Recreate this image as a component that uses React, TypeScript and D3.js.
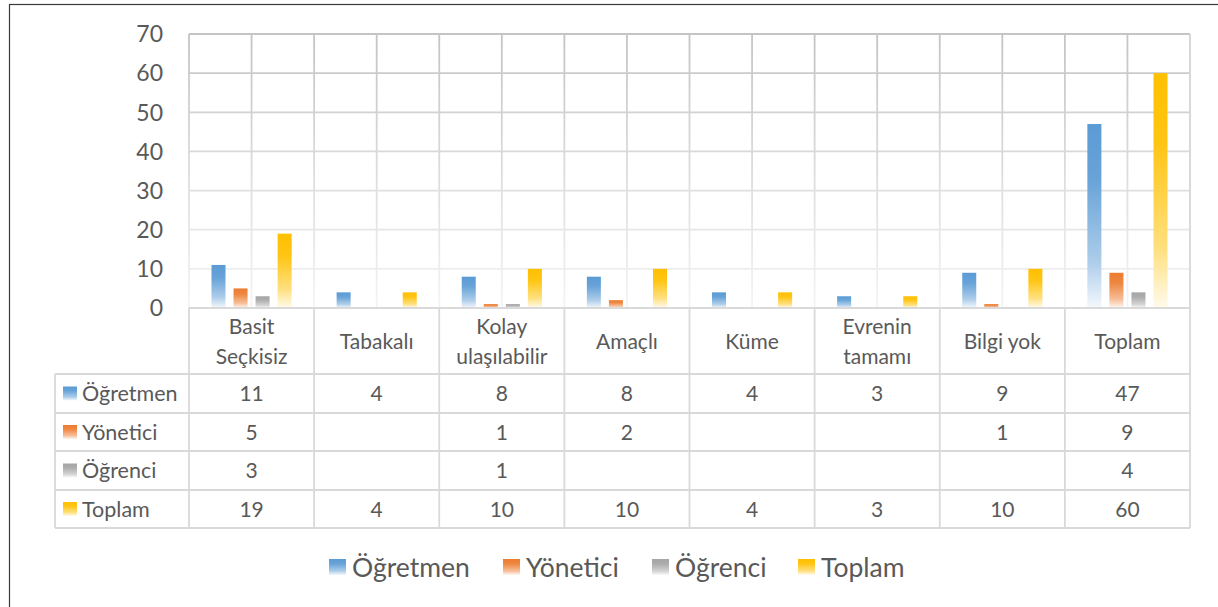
import React from "react";
import * as d3 from "d3";

const categories = ["Basit Seçkisiz", "Tabakalı", "Kolay ulaşılabilir", "Amaçlı", "Küme", "Evrenin tamamı", "Bilgi yok", "Toplam"];
const categoryLines = [["Basit", "Seçkisiz"], ["Tabakalı"], ["Kolay", "ulaşılabilir"], ["Amaçlı"], ["Küme"], ["Evrenin", "tamamı"], ["Bilgi yok"], ["Toplam"]];
const seriesNames = ["Öğretmen", "Yönetici", "Öğrenci", "Toplam"];
const ogretmen = [11, 4, 8, 8, 4, 3, 9, 47];
const yonetici = [5, null, 1, 2, null, null, 1, 9];
const ogrenci = [3, null, 1, null, null, null, null, 4];
const toplam = [19, 4, 10, 10, 4, 3, 10, 60];
const yTicks = [0, 10, 20, 30, 40, 50, 60, 70];
const colors = ["#5b9bd5", "#ed7d31", "#a5a5a5", "#ffc000"];

const seriesValues = [ogretmen, yonetici, ogrenci, toplam];

const FONT = "Lato, 'Open Sans', sans-serif";
const TEXT = "#595959";

export default function App() {
  const plot = { left: 189, right: 1190, top: 34, bottom: 308 };
  const rowTops = [374, 413, 451, 490, 528];
  const tableLeft = 55;

  const x = d3.scaleBand<string>().domain(categories).range([plot.left, plot.right]);
  const xs = d3.scaleBand<string>().domain(seriesNames).range([0, x.bandwidth()]).paddingInner(0.364).paddingOuter(1.02);
  const y = d3.scaleLinear().domain([0, 70]).range([plot.bottom, plot.top]);

  const halfLines: number[] = [];
  categories.forEach((c) => {
    halfLines.push(x(c)!);
    halfLines.push(x(c)! + x.bandwidth() / 2);
  });
  halfLines.push(plot.right);

  return (
    <svg width={1218} height={607} style={{ position: "absolute", left: 0, top: 0, background: "#fff" }} fontFamily={FONT}>
      <defs>
        <linearGradient id="grid" gradientUnits="userSpaceOnUse" x1={0} y1={plot.top} x2={0} y2={plot.bottom}>
          <stop offset="0" stopColor="#c4c4c4" />
          <stop offset="1" stopColor="#f4f4f4" />
        </linearGradient>
        {colors.map((c, i) => (
          <linearGradient key={i} id={"bar" + i} x1="0" y1="0" x2="0" y2="1">
            <stop offset="0" stopColor={c} />
            <stop offset="0.3" stopColor={d3.interpolateRgb(c, "#fff")(0.08)} />
            <stop offset="0.75" stopColor={d3.interpolateRgb(c, "#fff")(0.5)} />
            <stop offset="1" stopColor={d3.interpolateRgb(c, "#fff")(0.93)} />
          </linearGradient>
        ))}
      </defs>

      {/* chart frame */}
      <rect x={9.5} y={4.5} width={1300} height={700} fill="none" stroke="#3a3a3a" strokeWidth={1.2} />

      {/* gridlines */}
      {yTicks.slice(1).map((t) => (
        <line key={"h" + t} x1={plot.left} x2={plot.right} y1={y(t)} y2={y(t)} stroke="url(#grid)" strokeWidth={1.8} />
      ))}
      {halfLines.map((xv, i) => (
        <rect key={"v" + i} x={xv - 0.9} y={plot.top} width={1.8} height={plot.bottom - plot.top} fill="url(#grid)" />
      ))}

      {/* y ticks */}
      {yTicks.map((t) => (
        <text key={"t" + t} x={163} y={y(t)} dy="0.36em" textAnchor="end" fontSize={23} fill={TEXT}>{t}</text>
      ))}

      {/* bars */}
      {seriesValues.map((vals, si) =>
        vals.map((v, ci) =>
          v ? (
            <rect key={si + "-" + ci}
              x={x(categories[ci])! + xs(seriesNames[si])!}
              y={y(v)}
              width={xs.bandwidth()}
              height={y(0) - y(v)}
              fill={`url(#bar${si})`} />
          ) : null
        )
      )}

      {/* data table */}
      <g stroke="#d9d9d9" strokeWidth={1.8}>
        <line x1={plot.left} x2={plot.right} y1={plot.bottom} y2={plot.bottom} />
        {rowTops.map((r, i) => (
          <line key={"r" + i} x1={tableLeft} x2={plot.right} y1={r} y2={r} />
        ))}
        <line x1={tableLeft} x2={tableLeft} y1={rowTops[0]} y2={rowTops[4]} />
        {categories.map((c) => (
          <line key={"c" + c} x1={x(c)!} x2={x(c)!} y1={plot.bottom} y2={rowTops[4]} />
        ))}
        <line x1={plot.right} x2={plot.right} y1={plot.top} y2={rowTops[4]} />
      </g>

      {categories.map((c, ci) => {
        const lines = categoryLines[ci];
        const cy = (plot.bottom + rowTops[0]) / 2;
        return (
          <text key={"cl" + c} textAnchor="middle" fontSize={21} fill={TEXT}>
            {lines.map((l, li) => (
              <tspan key={li} x={x(c)! + x.bandwidth() / 2} y={cy + (li - (lines.length - 1) / 2) * 30} dy="0.36em">{l}</tspan>
            ))}
          </text>
        );
      })}

      {seriesNames.map((s, si) => {
        const cy = (rowTops[si] + rowTops[si + 1]) / 2;
        return (
          <g key={"row" + s}>
            <rect x={63} y={cy - 7} width={14} height={14} fill={`url(#bar${si})`} />
            <text x={82} y={cy} dy="0.36em" fontSize={21.5} fill={TEXT}>{s}</text>
            {seriesValues[si].map((v, ci) =>
              v != null ? (
                <text key={ci} x={x(categories[ci])! + x.bandwidth() / 2} y={cy} dy="0.36em" textAnchor="middle" fontSize={21} fill={TEXT}>{v}</text>
              ) : null
            )}
          </g>
        );
      })}

      {/* legend */}
      {seriesNames.map((s, si) => {
        const lx = [329, 503, 652, 798][si];
        return (
          <g key={"lg" + s}>
            <rect x={lx} y={559} width={17} height={16} fill={`url(#bar${si})`} />
            <text x={lx + 23} y={567} dy="0.36em" fontSize={26.5} fill={TEXT}>{s}</text>
          </g>
        );
      })}
    </svg>
  );
}
